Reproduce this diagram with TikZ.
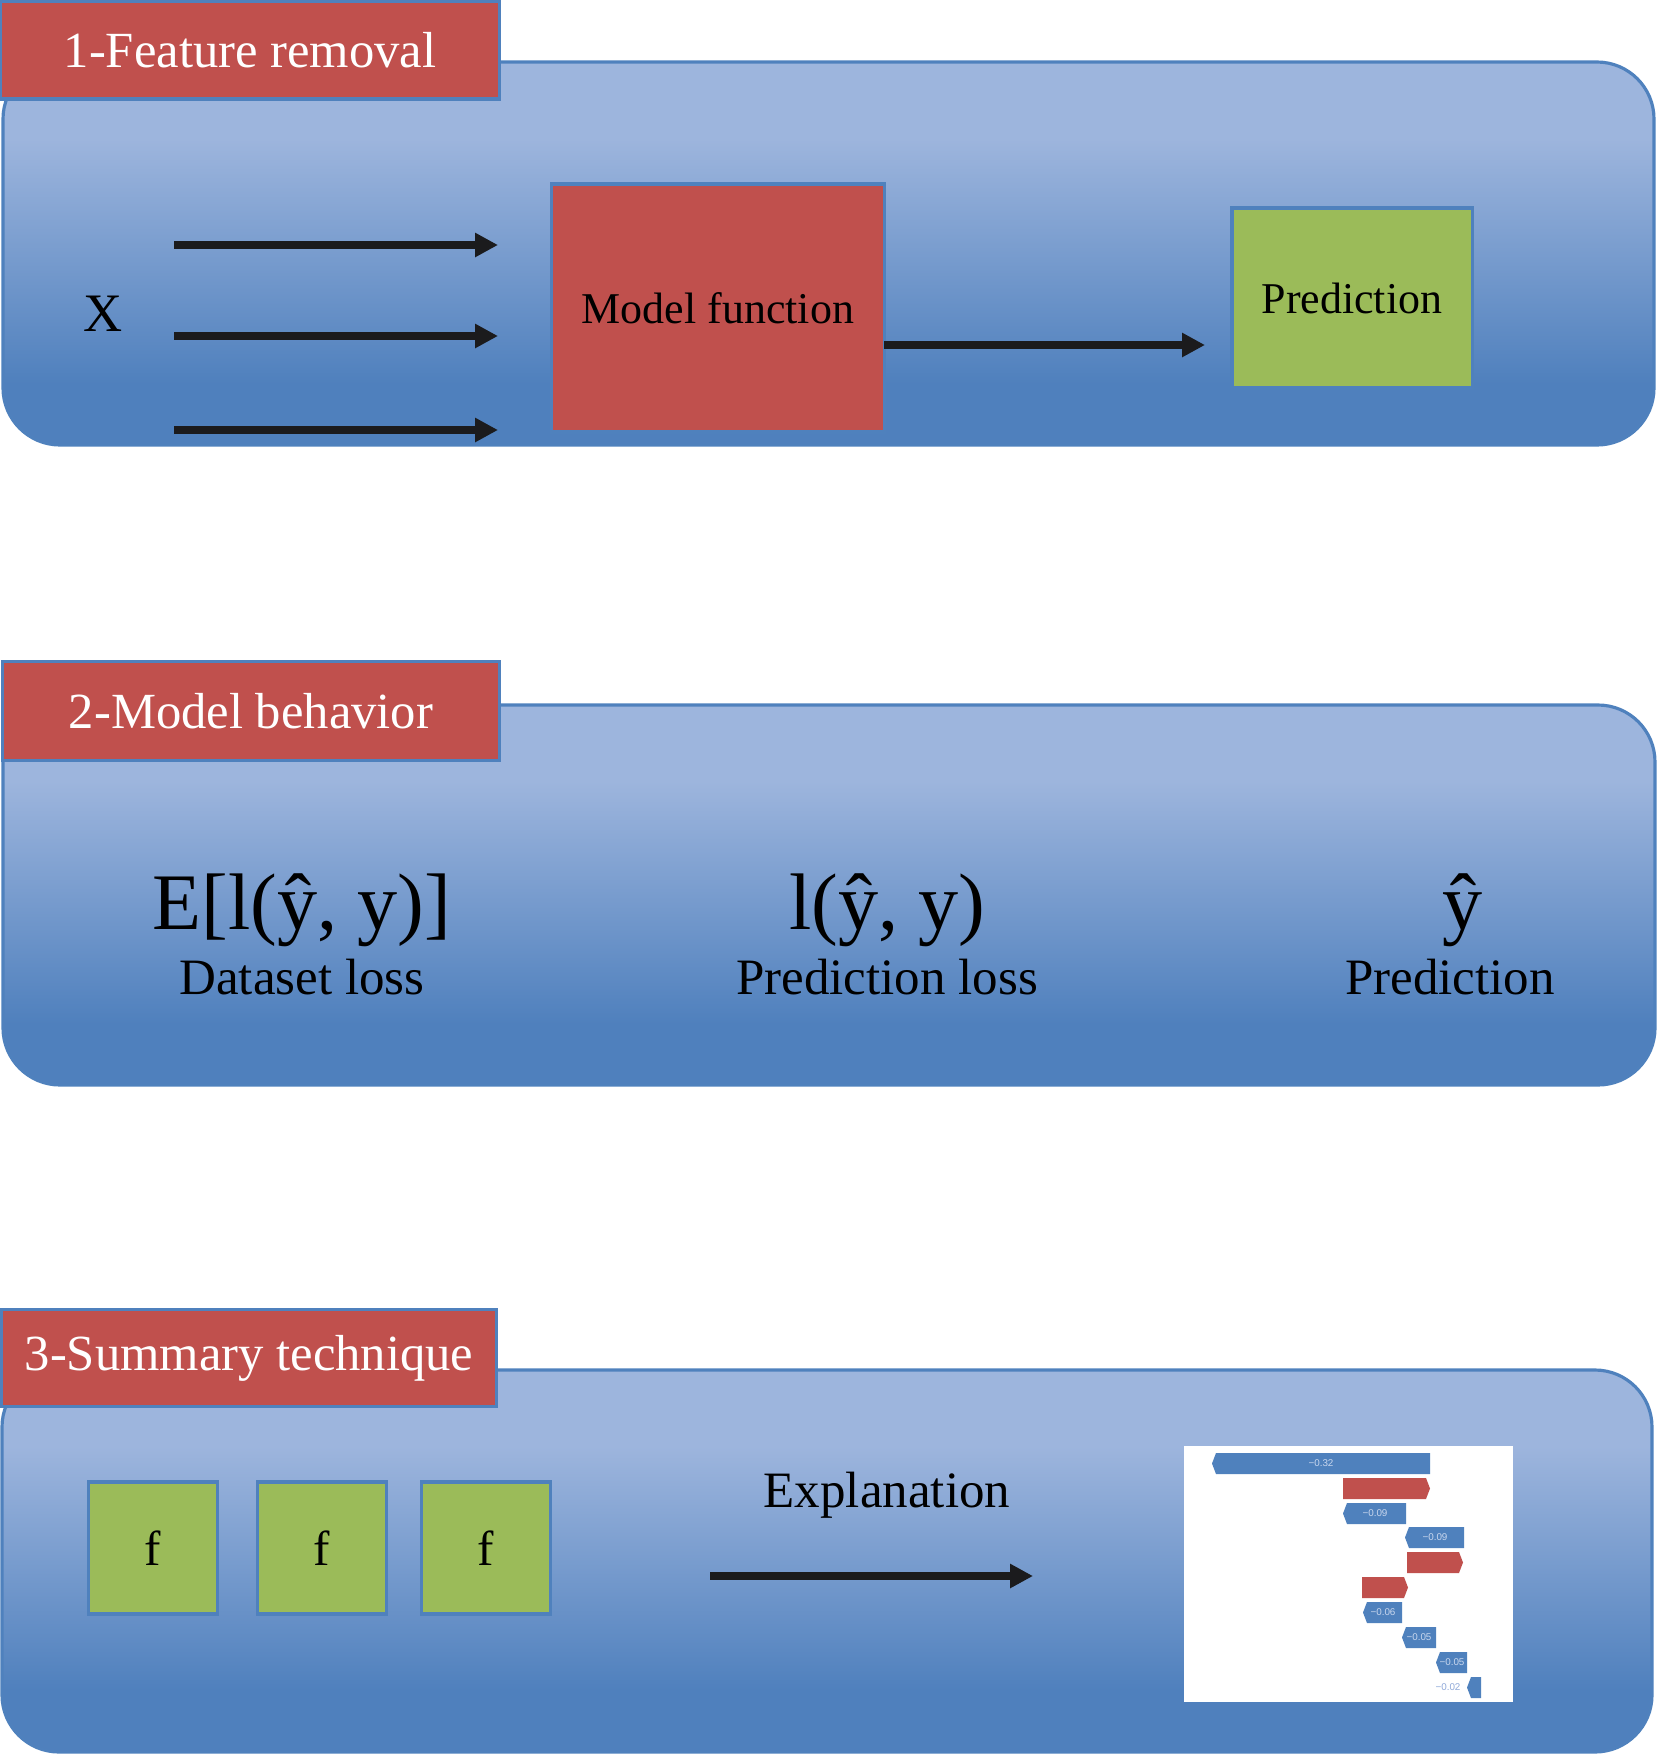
\documentclass[tikz,border=0pt]{standalone}
\usepackage{fontspec}
\setmainfont{Liberation Serif}
\newfontfamily\chartfont{Liberation Sans}
\usetikzlibrary{arrows.meta}

\definecolor{panelLight}{HTML}{9DB5DD}
\definecolor{panelDark}{HTML}{4F80BD}
\definecolor{edgeBlue}{HTML}{4F81BD}
\definecolor{boxRed}{HTML}{C0504D}
\definecolor{boxGreen}{HTML}{9BBB59}
\definecolor{arrowBlack}{HTML}{1B1B1D}
\definecolor{barBlue}{HTML}{4F81BD}
\definecolor{barText}{HTML}{C9D7EE}
\definecolor{outText}{HTML}{8FA9D9}

\pgfdeclareverticalshading{panelshade}{100bp}{color(0bp)=(panelDark); color(33bp)=(panelDark); color(65bp)=(panelLight); color(100bp)=(panelLight)}

\begin{document}
\begin{tikzpicture}[x=0.01cm, y=-0.01cm,
    panel/.style={draw=edgeBlue, line width=0.9pt, shade, shading=panelshade, rounded corners=0.57cm},
    tag/.style={draw=edgeBlue, line width=0.9pt, fill=boxRed, text=white, inner sep=0pt, font=\fontsize{14.4}{17}\selectfont},
    redbox/.style={draw=edgeBlue, line width=0.9pt, fill=boxRed, inner sep=0pt, font=\fontsize{12.5}{15}\selectfont},
    greenbox/.style={draw=edgeBlue, line width=0.9pt, fill=boxGreen, inner sep=0pt, font=\fontsize{12.5}{15}\selectfont},
    fbox/.style={greenbox, minimum width=1.29cm, minimum height=1.32cm, font=\fontsize{14}{16}\selectfont},
    arr/.style={draw=arrowBlack, line width=2.3pt, -{Triangle[length=6.5pt, width=6.5pt]}},
    big/.style={anchor=base, inner sep=0pt, font=\fontsize{22.8}{26}\selectfont},
    caption/.style={anchor=base, inner sep=0pt, font=\fontsize{14.5}{17}\selectfont},
    barval/.style={inner sep=0pt, text=barText, font=\chartfont\fontsize{2.8}{3}\selectfont}]

    \useasboundingbox (0, 0) rectangle (1659, 1754);

    % panel 1
    \draw[panel] (3, 62) rectangle (1654, 445);
    \node[tag, minimum width=4.98cm, minimum height=0.98cm] (tag1) at (250, 50) {1-Feature removal};
    \node[anchor=base, inner sep=0pt, font=\fontsize{15.4}{18}\selectfont] (x) at (103, 331) {X};
    \foreach \y [count=\i] in {245, 336, 430} {
        \coordinate (in\i) at (174, \y);
        \coordinate (out\i) at (498, \y);
        \draw[arr] (in\i) -- (out\i);
    }
    \node[redbox, minimum width=3.32cm, minimum height=2.48cm] (model) at (718, 308) {Model function};
    \node[greenbox, minimum width=2.40cm, minimum height=1.80cm] (pred) at (1352, 298) {Prediction};
    \coordinate (mout) at (884, 345);
    \coordinate (pin) at (1205, 345);
    \draw[arr] (mout) -- (pin);

    % panel 2
    \draw[panel] (3, 705) rectangle (1655, 1085);
    \node[tag, minimum width=4.96cm, minimum height=0.99cm] (tag2) at (251, 711) {2-Model behavior};
    \node[big] (dloss) at (302, 929) {E[l(ŷ, y)]};
    \node[caption] (dlosstxt) at (302, 994) {Dataset loss};
    \node[big] (ploss) at (887, 929) {l(ŷ, y)};
    \node[caption] (plosstxt) at (887, 994) {Prediction loss};
    \node[big] (yhat) at (1463, 929) {ŷ};
    \node[caption] (yhattxt) at (1450, 994) {Prediction};

    % panel 3
    \draw[panel] (2, 1370) rectangle (1652, 1752);
    \node[tag, minimum width=4.94cm, minimum height=0.97cm] (tag3) at (249, 1358) {3-Summary technique};
    \foreach \x [count=\i] in {153, 322, 486} {
        \node[fbox] (f\i) at (\x, 1548) {f};
    }
    \node[caption] (expl) at (887, 1507) {Explanation};
    \coordinate (ein) at (710, 1576);
    \coordinate (eout) at (1033, 1576);
    \draw[arr] (ein) -- (eout);

    % waterfall chart
    \node[fill=white, inner sep=0pt, minimum width=3.29cm, minimum height=2.56cm] (chart) at (1348.5, 1574) {};
    \foreach \xa/\xb/\ya/\lx/\lab [count=\i] in {1212/1430/1453/1321/{−0.32}, 1343/1406/1503/1375/{−0.09},
            1405/1464/1527/1435/{−0.09}, 1363/1402/1602/1383/{−0.06}, 1402/1436/1627/1419/{−0.05},
            1436/1467/1652/1452/{−0.05}} {
        \fill[barBlue] (\xa + 4, \ya) -- (\xb, \ya) -- (\xb, \ya + 21) -- (\xa + 4, \ya + 21) -- (\xa, \ya + 10.5) -- cycle;
        \node[barval] (val\i) at (\lx, \ya + 10.5) {\lab};
    }
    \fill[barBlue] (1471, 1677) -- (1481, 1677) -- (1481, 1698) -- (1471, 1698) -- (1467, 1687.5) -- cycle;
    \node[barval, text=outText] (val7) at (1448, 1687.5) {−0.02};
    \foreach \xa/\xb/\ya in {1343/1430/1478, 1407/1463/1552, 1362/1408/1577} {
        \fill[boxRed] (\xa, \ya) -- (\xb - 4, \ya) -- (\xb, \ya + 10.5) -- (\xb - 4, \ya + 21) -- (\xa, \ya + 21) -- cycle;
    }
\end{tikzpicture}
\end{document}
